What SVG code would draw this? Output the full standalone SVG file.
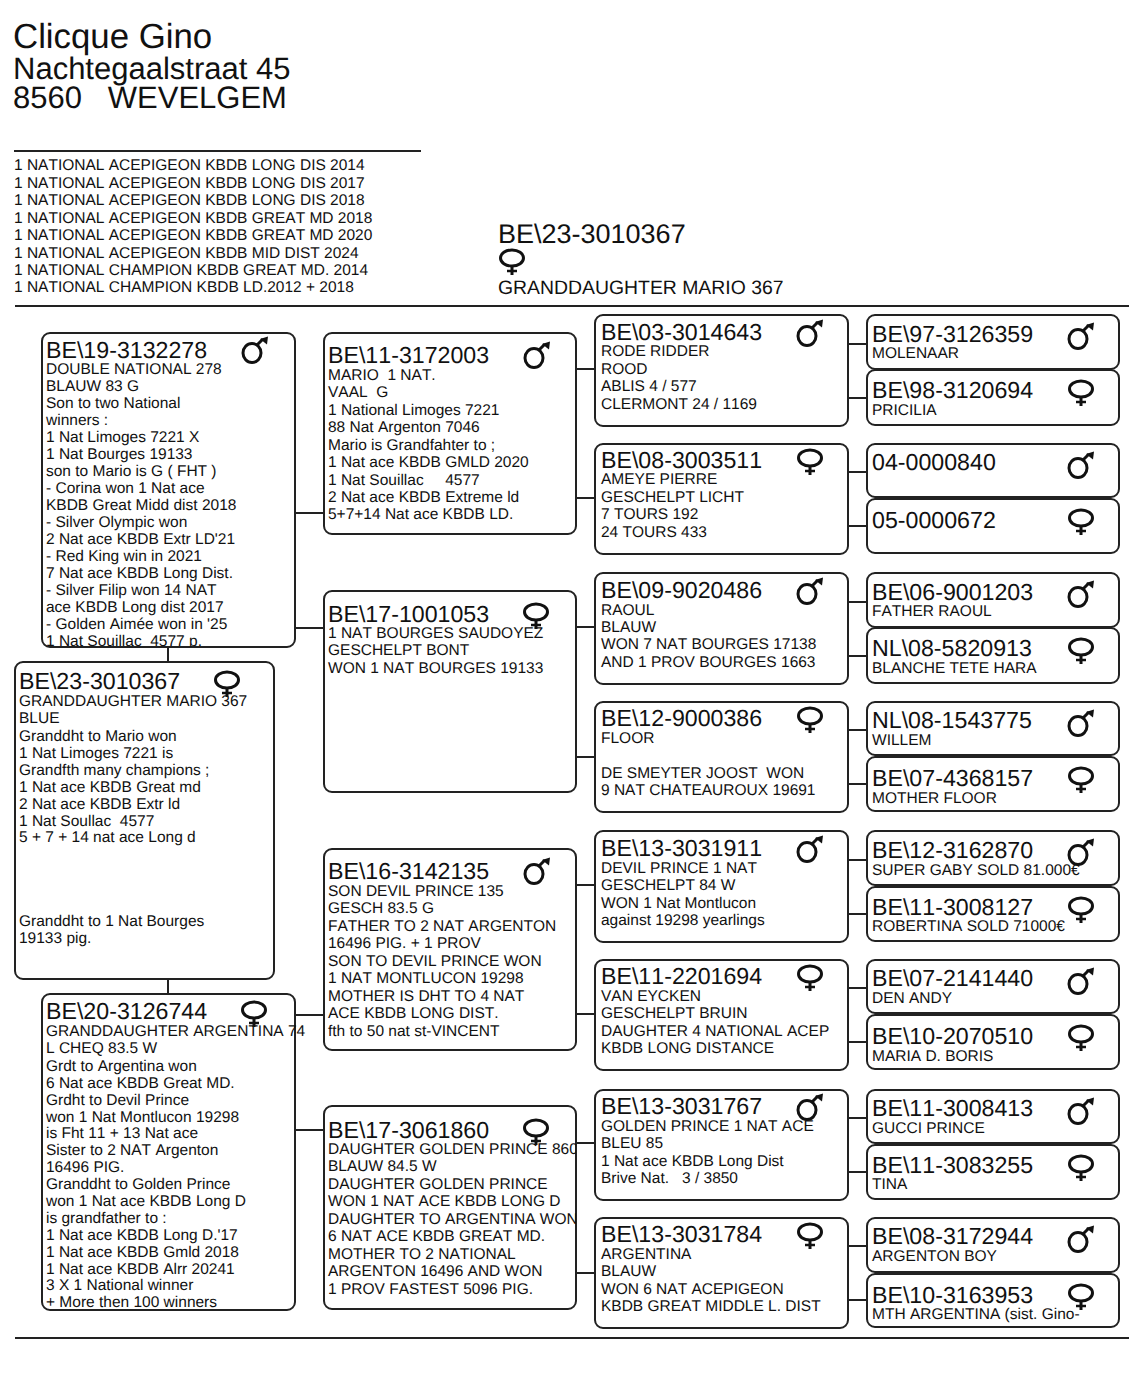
<svg xmlns="http://www.w3.org/2000/svg" width="1144" height="1385" viewBox="0 0 1144 1385">
<style>
text{font-family:"Liberation Sans",Arial,sans-serif;fill:#111;white-space:pre;font-kerning:none;text-rendering:geometricPrecision}
.b{font-size:15.5px}
.h{font-size:23.2px}
.l{font-size:15.5px}
.box{fill:#fff;stroke:#222;stroke-width:2}
.c{fill:none;stroke:#222;stroke-width:2}
.r{fill:none;stroke:#222;stroke-width:2}
.s{fill:none;stroke:#111;stroke-width:3}
</style>
<defs>
<g id="male"><ellipse class="s" cx="-3" cy="1" rx="9" ry="9.500"/><path class="s" d="M2 -7L8 -13"/><path d="M5 -13L13 -15.500L12 -7.500Z" fill="#111"/></g>
<g id="female"><ellipse class="s" cx="0" cy="0" rx="11.500" ry="8"/><path class="s" d="M0 8V17"/><path class="s" d="M-5 13H5" style="stroke-width:2.500"/></g>
<clipPath id="c19"><rect x="42" y="333" width="253" height="314"/></clipPath>
<clipPath id="c173"><rect x="324" y="1106" width="252" height="203"/></clipPath>
</defs>
<rect width="1144" height="1385" fill="#fff"/>
<g id="header">
<text x="13" y="48" style="font-size:34.800px">Clicque Gino</text>
<text x="13" y="79" style="font-size:31px">Nachtegaalstraat 45</text>
<text x="13" y="108" style="font-size:31px">8560   WEVELGEM</text>
<path class="r" d="M14 151H421"/>
<text class="l" x="14" y="170">1 NATIONAL ACEPIGEON KBDB LONG DIS 2014</text>
<text class="l" x="14" y="188">1 NATIONAL ACEPIGEON KBDB LONG DIS 2017</text>
<text class="l" x="14" y="205">1 NATIONAL ACEPIGEON KBDB LONG DIS 2018</text>
<text class="l" x="14" y="223">1 NATIONAL ACEPIGEON KBDB GREAT MD 2018</text>
<text class="l" x="14" y="240">1 NATIONAL ACEPIGEON KBDB GREAT MD 2020</text>
<text class="l" x="14" y="258">1 NATIONAL ACEPIGEON KBDB MID DIST 2024</text>
<text class="l" x="14" y="275">1 NATIONAL CHAMPION KBDB GREAT MD. 2014</text>
<text class="l" x="14" y="292">1 NATIONAL CHAMPION KBDB LD.2012 + 2018</text>
<text x="498" y="243" style="font-size:27px">BE\23-3010367</text>
<use href="#female" x="512" y="258"/>
<text x="498" y="294" style="font-size:19.400px">GRANDDAUGHTER MARIO 367</text>
<path class="r" d="M15 306H1129"/>
<path class="r" d="M15 1338H1129"/>
</g>
<g id="connectors">
<path class="c" d="M168 647V662M168 979V994M295 513H324M295 628H324M295 1015H324M295 1130H324"/>
<path class="c" d="M576 369H595M576 498H595M576 627H595M576 757H595M576 885H595M576 1014H595M576 1143H595M576 1273H595"/>
<path class="c" d="M848 344H867M848 398H867M848 472H867M848 526H867M848 602H867M848 656H867M848 730H867M848 784H867M848 860H867M848 914H867M848 988H867M848 1042H867M848 1118H867M848 1172H867M848 1246H867M848 1300H867"/>
</g>
<g id="n-19-3132278"><rect class="box" x="42" y="333" width="253" height="314" rx="8"/><use href="#male" x="255" y="352"/>
<g clip-path="url(#c19)">
<text class="h" x="46" y="358">BE\19-3132278</text>
<text class="b" x="46" y="374">DOUBLE NATIONAL 278</text>
<text class="b" x="46" y="391">BLAUW 83 G</text>
<text class="b" x="46" y="408">Son to two National</text>
<text class="b" x="46" y="425">winners :</text>
<text class="b" x="46" y="442">1 Nat Limoges 7221 X</text>
<text class="b" x="46" y="459">1 Nat Bourges 19133</text>
<text class="b" x="46" y="476">son to Mario is G ( FHT )</text>
<text class="b" x="46" y="493">- Corina won 1 Nat ace</text>
<text class="b" x="46" y="510">KBDB Great Midd dist 2018</text>
<text class="b" x="46" y="527">- Silver Olympic won</text>
<text class="b" x="46" y="544">2 Nat ace KBDB Extr LD'21</text>
<text class="b" x="46" y="561">- Red King win in 2021</text>
<text class="b" x="46" y="578">7 Nat ace KBDB Long Dist.</text>
<text class="b" x="46" y="595">- Silver Filip won 14 NAT</text>
<text class="b" x="46" y="612">ace KBDB Long dist 2017</text>
<text class="b" x="46" y="629">- Golden Aimée won in '25</text>
<text class="b" x="46" y="646">1 Nat Souillac  4577 p.</text>
</g></g>
<g id="n-23-3010367"><rect class="box" x="15" y="662" width="259" height="317" rx="8"/><use href="#female" x="227" y="680"/>
<text class="h" x="19" y="689">BE\23-3010367</text>
<text class="b" x="19" y="706">GRANDDAUGHTER MARIO 367</text>
<text class="b" x="19" y="723">BLUE</text>
<text class="b" x="19" y="741">Granddht to Mario won</text>
<text class="b" x="19" y="758">1 Nat Limoges 7221 is</text>
<text class="b" x="19" y="775">Grandfth many champions ;</text>
<text class="b" x="19" y="792">1 Nat ace KBDB Great md</text>
<text class="b" x="19" y="809">2 Nat ace KBDB Extr ld</text>
<text class="b" x="19" y="826">1 Nat Soullac  4577</text>
<text class="b" x="19" y="842">5 + 7 + 14 nat ace Long d</text>
<text class="b" x="19" y="926">Granddht to 1 Nat Bourges</text>
<text class="b" x="19" y="943">19133 pig.</text>
</g>
<g id="n-20-3126744"><rect class="box" x="42" y="994" width="253" height="316" rx="8"/><use href="#female" x="254" y="1010"/>
<text class="h" x="46" y="1019">BE\20-3126744</text>
<text class="b" x="46" y="1036">GRANDDAUGHTER ARGENTINA 74</text>
<text class="b" x="46" y="1053">L CHEQ 83.5 W</text>
<text class="b" x="46" y="1071">Grdt to Argentina won</text>
<text class="b" x="46" y="1088">6 Nat ace KBDB Great MD.</text>
<text class="b" x="46" y="1105">Grdht to Devil Prince</text>
<text class="b" x="46" y="1122">won 1 Nat Montlucon 19298</text>
<text class="b" x="46" y="1138">is Fht 11 + 13 Nat ace</text>
<text class="b" x="46" y="1155">Sister to 2 NAT Argenton</text>
<text class="b" x="46" y="1172">16496 PIG.</text>
<text class="b" x="46" y="1189">Granddht to Golden Prince</text>
<text class="b" x="46" y="1206">won 1 Nat ace KBDB Long D</text>
<text class="b" x="46" y="1223">is grandfather to :</text>
<text class="b" x="46" y="1240">1 Nat ace KBDB Long D.'17</text>
<text class="b" x="46" y="1257">1 Nat ace KBDB Gmld 2018</text>
<text class="b" x="46" y="1274">1 Nat ace KBDB Alrr 20241</text>
<text class="b" x="46" y="1290">3 X 1 National winner</text>
<text class="b" x="46" y="1307">+ More then 100 winners</text>
</g>
<g id="n-11-3172003"><rect class="box" x="324" y="333" width="252" height="201" rx="8"/><use href="#male" x="537" y="357"/>
<text class="h" x="328" y="363">BE\11-3172003</text>
<text class="b" x="328" y="380">MARIO  1 NAT.</text>
<text class="b" x="328" y="397">VAAL  G</text>
<text class="b" x="328" y="415">1 National Limoges 7221</text>
<text class="b" x="328" y="432">88 Nat Argenton 7046</text>
<text class="b" x="328" y="450">Mario is Grandfahter to ;</text>
<text class="b" x="328" y="467">1 Nat ace KBDB GMLD 2020</text>
<text class="b" x="328" y="485">1 Nat Souillac     4577</text>
<text class="b" x="328" y="502">2 Nat ace KBDB Extreme ld</text>
<text class="b" x="328" y="519">5+7+14 Nat ace KBDB LD.</text>
</g>
<g id="n-17-1001053"><rect class="box" x="324" y="591" width="252" height="201" rx="8"/><use href="#female" x="536" y="612"/>
<text class="h" x="328" y="622">BE\17-1001053</text>
<text class="b" x="328" y="638">1 NAT BOURGES SAUDOYEZ</text>
<text class="b" x="328" y="655">GESCHELPT BONT</text>
<text class="b" x="328" y="673">WON 1 NAT BOURGES 19133</text>
</g>
<g id="n-16-3142135"><rect class="box" x="324" y="849" width="252" height="201" rx="8"/><use href="#male" x="537" y="873"/>
<text class="h" x="328" y="879">BE\16-3142135</text>
<text class="b" x="328" y="896">SON DEVIL PRINCE 135</text>
<text class="b" x="328" y="913">GESCH 83.5 G</text>
<text class="b" x="328" y="931">FATHER TO 2 NAT ARGENTON</text>
<text class="b" x="328" y="948">16496 PIG. + 1 PROV</text>
<text class="b" x="328" y="966">SON TO DEVIL PRINCE WON</text>
<text class="b" x="328" y="983">1 NAT MONTLUCON 19298</text>
<text class="b" x="328" y="1001">MOTHER IS DHT TO 4 NAT</text>
<text class="b" x="328" y="1018">ACE KBDB LONG DIST.</text>
<text class="b" x="328" y="1036">fth to 50 nat st-VINCENT</text>
</g>
<g id="n-17-3061860"><rect class="box" x="324" y="1106" width="252" height="203" rx="8"/><use href="#female" x="536" y="1128"/>
<g clip-path="url(#c173)">
<text class="h" x="328" y="1138">BE\17-3061860</text>
<text class="b" x="328" y="1154">DAUGHTER GOLDEN PRINCE 860</text>
<text class="b" x="328" y="1171">BLAUW 84.5 W</text>
<text class="b" x="328" y="1189">DAUGHTER GOLDEN PRINCE</text>
<text class="b" x="328" y="1206">WON 1 NAT ACE KBDB LONG D</text>
<text class="b" x="328" y="1224">DAUGHTER TO ARGENTINA WON</text>
<text class="b" x="328" y="1241">6 NAT ACE KBDB GREAT MD.</text>
<text class="b" x="328" y="1259">MOTHER TO 2 NATIONAL</text>
<text class="b" x="328" y="1276">ARGENTON 16496 AND WON</text>
<text class="b" x="328" y="1294">1 PROV FASTEST 5096 PIG.</text>
</g></g>
<g id="n-03-3014643"><rect class="box" x="595" y="315" width="253" height="111" rx="8"/><use href="#male" x="810" y="335"/>
<text class="h" x="601" y="340">BE\03-3014643</text>
<text class="b" x="601" y="356">RODE RIDDER</text>
<text class="b" x="601" y="374">ROOD</text>
<text class="b" x="601" y="391">ABLIS 4 / 577</text>
<text class="b" x="601" y="409">CLERMONT 24 / 1169</text>
</g>
<g id="n-08-3003511"><rect class="box" x="595" y="444" width="253" height="110" rx="8"/><use href="#female" x="810" y="458"/>
<text class="h" x="601" y="468">BE\08-3003511</text>
<text class="b" x="601" y="484">AMEYE PIERRE</text>
<text class="b" x="601" y="502">GESCHELPT LICHT</text>
<text class="b" x="601" y="519">7 TOURS 192</text>
<text class="b" x="601" y="537">24 TOURS 433</text>
</g>
<g id="n-09-9020486"><rect class="box" x="595" y="573" width="253" height="111" rx="8"/><use href="#male" x="810" y="593"/>
<text class="h" x="601" y="598">BE\09-9020486</text>
<text class="b" x="601" y="615">RAOUL</text>
<text class="b" x="601" y="632">BLAUW</text>
<text class="b" x="601" y="649">WON 7 NAT BOURGES 17138</text>
<text class="b" x="601" y="667">AND 1 PROV BOURGES 1663</text>
</g>
<g id="n-12-9000386"><rect class="box" x="595" y="702" width="253" height="110" rx="8"/><use href="#female" x="810" y="716"/>
<text class="h" x="601" y="726">BE\12-9000386</text>
<text class="b" x="601" y="743">FLOOR</text>
<text class="b" x="601" y="778">DE SMEYTER JOOST  WON</text>
<text class="b" x="601" y="795">9 NAT CHATEAUROUX 19691</text>
</g>
<g id="n-13-3031911"><rect class="box" x="595" y="831" width="253" height="111" rx="8"/><use href="#male" x="810" y="851"/>
<text class="h" x="601" y="856">BE\13-3031911</text>
<text class="b" x="601" y="873">DEVIL PRINCE 1 NAT</text>
<text class="b" x="601" y="890">GESCHELPT 84 W</text>
<text class="b" x="601" y="908">WON 1 Nat Montlucon</text>
<text class="b" x="601" y="925">against 19298 yearlings</text>
</g>
<g id="n-11-2201694"><rect class="box" x="595" y="960" width="253" height="110" rx="8"/><use href="#female" x="810" y="974"/>
<text class="h" x="601" y="984">BE\11-2201694</text>
<text class="b" x="601" y="1001">VAN EYCKEN</text>
<text class="b" x="601" y="1018">GESCHELPT BRUIN</text>
<text class="b" x="601" y="1036">DAUGHTER 4 NATIONAL ACEP</text>
<text class="b" x="601" y="1053">KBDB LONG DISTANCE</text>
</g>
<g id="n-13-3031767"><rect class="box" x="595" y="1090" width="253" height="110" rx="8"/><use href="#male" x="810" y="1109"/>
<text class="h" x="601" y="1114">BE\13-3031767</text>
<text class="b" x="601" y="1131">GOLDEN PRINCE 1 NAT ACE</text>
<text class="b" x="601" y="1148">BLEU 85</text>
<text class="b" x="601" y="1166">1 Nat ace KBDB Long Dist</text>
<text class="b" x="601" y="1183">Brive Nat.   3 / 3850</text>
</g>
<g id="n-13-3031784"><rect class="box" x="595" y="1218" width="253" height="110" rx="8"/><use href="#female" x="810" y="1232"/>
<text class="h" x="601" y="1242">BE\13-3031784</text>
<text class="b" x="601" y="1259">ARGENTINA</text>
<text class="b" x="601" y="1276">BLAUW</text>
<text class="b" x="601" y="1294">WON 6 NAT ACEPIGEON</text>
<text class="b" x="601" y="1311">KBDB GREAT MIDDLE L. DIST</text>
</g>
<g id="n-97-3126359"><rect class="box" x="867" y="315" width="252" height="54" rx="8"/><use href="#male" x="1081" y="338"/><text class="h" x="872" y="342">BE\97-3126359</text><text class="b" x="872" y="358">MOLENAAR</text></g>
<g id="n-98-3120694"><rect class="box" x="867" y="370" width="252" height="55" rx="8"/><use href="#female" x="1081" y="389"/><text class="h" x="872" y="398">BE\98-3120694</text><text class="b" x="872" y="415">PRICILIA</text></g>
<g id="n-04-0000840"><rect class="box" x="867" y="444" width="252" height="53" rx="8"/><use href="#male" x="1081" y="467"/><text class="h" x="872" y="470">04-0000840</text></g>
<g id="n-05-0000672"><rect class="box" x="867" y="499" width="252" height="54" rx="8"/><use href="#female" x="1081" y="518"/><text class="h" x="872" y="528">05-0000672</text></g>
<g id="n-06-9001203"><rect class="box" x="867" y="573" width="252" height="54" rx="8"/><use href="#male" x="1081" y="596"/><text class="h" x="872" y="600">BE\06-9001203</text><text class="b" x="872" y="616">FATHER RAOUL</text></g>
<g id="n-08-5820913"><rect class="box" x="867" y="628" width="252" height="55" rx="8"/><use href="#female" x="1081" y="647"/><text class="h" x="872" y="656">NL\08-5820913</text><text class="b" x="872" y="673">BLANCHE TETE HARA</text></g>
<g id="n-08-1543775"><rect class="box" x="867" y="702" width="252" height="53" rx="8"/><use href="#male" x="1081" y="725"/><text class="h" x="872" y="728">NL\08-1543775</text><text class="b" x="872" y="745">WILLEM</text></g>
<g id="n-07-4368157"><rect class="box" x="867" y="757" width="252" height="54" rx="8"/><use href="#female" x="1081" y="776"/><text class="h" x="872" y="786">BE\07-4368157</text><text class="b" x="872" y="803">MOTHER FLOOR</text></g>
<g id="n-12-3162870"><rect class="box" x="867" y="831" width="252" height="54" rx="8"/><use href="#male" x="1081" y="854"/><text class="h" x="872" y="858">BE\12-3162870</text><text class="b" x="872" y="875">SUPER GABY SOLD 81.000€</text></g>
<g id="n-11-3008127"><rect class="box" x="867" y="887" width="252" height="54" rx="8"/><use href="#female" x="1081" y="906"/><text class="h" x="872" y="915">BE\11-3008127</text><text class="b" x="872" y="931">ROBERTINA SOLD 71000€</text></g>
<g id="n-07-2141440"><rect class="box" x="867" y="960" width="252" height="53" rx="8"/><use href="#male" x="1081" y="983"/><text class="h" x="872" y="986">BE\07-2141440</text><text class="b" x="872" y="1003">DEN ANDY</text></g>
<g id="n-10-2070510"><rect class="box" x="867" y="1015" width="252" height="54" rx="8"/><use href="#female" x="1081" y="1034"/><text class="h" x="872" y="1044">BE\10-2070510</text><text class="b" x="872" y="1061">MARIA D. BORIS</text></g>
<g id="n-11-3008413"><rect class="box" x="867" y="1090" width="252" height="53" rx="8"/><use href="#male" x="1081" y="1113"/><text class="h" x="872" y="1116">BE\11-3008413</text><text class="b" x="872" y="1133">GUCCI PRINCE</text></g>
<g id="n-11-3083255"><rect class="box" x="867" y="1145" width="252" height="54" rx="8"/><use href="#female" x="1081" y="1164"/><text class="h" x="872" y="1173">BE\11-3083255</text><text class="b" x="872" y="1189">TINA</text></g>
<g id="n-08-3172944"><rect class="box" x="867" y="1218" width="252" height="54" rx="8"/><use href="#male" x="1081" y="1241"/><text class="h" x="872" y="1244">BE\08-3172944</text><text class="b" x="872" y="1261">ARGENTON BOY</text></g>
<g id="n-10-3163953"><rect class="box" x="867" y="1274" width="252" height="53" rx="8"/><use href="#female" x="1081" y="1293"/><text class="h" x="872" y="1303">BE\10-3163953</text><text class="b" x="872" y="1319">MTH ARGENTINA (sist. Gino-</text></g>
</svg>
